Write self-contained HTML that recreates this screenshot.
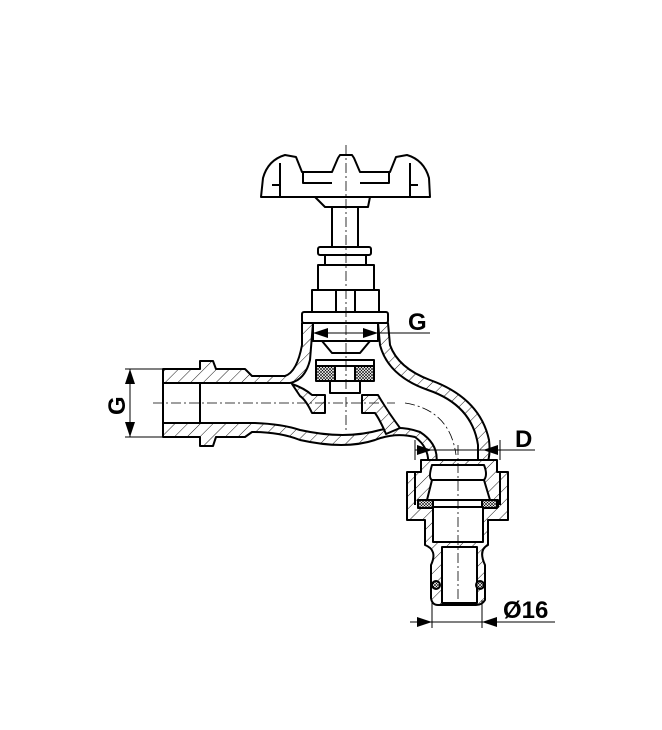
<!DOCTYPE html>
<html><head><meta charset="utf-8"><style>
html,body{margin:0;padding:0;background:#fff;}
svg{display:block}
text{font-family:"Liberation Sans",Arial,sans-serif;font-weight:bold;fill:#000}
</style></head><body>
<svg width="662" height="730" viewBox="0 0 662 730" xmlns="http://www.w3.org/2000/svg">
<defs>
<pattern id="h" width="9" height="9" patternUnits="userSpaceOnUse" patternTransform="rotate(45)">
<rect width="9" height="9" fill="#fff"/><line x1="0" y1="0" x2="0" y2="9" stroke="#000" stroke-width="0.9"/></pattern>
<pattern id="x" width="3" height="3" patternUnits="userSpaceOnUse">
<rect width="3" height="3" fill="#fff"/><path d="M0 0L3 3M3 0L0 3" stroke="#000" stroke-width="0.6"/></pattern>
</defs>
<g stroke="#000" stroke-width="2" fill="none" stroke-linejoin="round">
<!-- handle -->
<path d="M261 197 L263 178 Q268 160 285 155 L296 157 L302 172 L332 172 L338 158 L340 155 L352 155 L354 158 L360 172 L390 172 L396 157 L407 155 Q424 160 429 178 L430 197 Z" fill="#fff"/>
<path d="M303 172 L303 183 L332 183 M360 183 L389 183 L389 172" />
<path d="M280 163 L280 197 M410 163 L410 197 M272 185 L280 185 M410 185 L418 185"/>
<path d="M315 197 L325 207 L368 207 L370 197"/>
<!-- stem -->
<rect x="332" y="207" width="26" height="40" fill="#fff"/>
<rect x="318" y="247" width="53" height="8" rx="2" fill="#fff"/>
<rect x="325" y="255" width="41" height="10" fill="#fff"/>
<rect x="318" y="265" width="56" height="25" fill="#fff"/>
<rect x="312" y="290" width="67" height="22" fill="#fff"/>
<path d="M336 290 L336 312 M355 290 L355 312"/>
<rect x="302" y="312" width="86" height="11" rx="2" fill="#fff"/>
<!-- body outer hatched -->
<path d="M163 369 L200 369 L200 361 L213 361 L216 369 L245 369 L252 376 L285 376 Q297 372 302 345 L302 323 L388 323 L390 345 Q398 368 430 380 Q480 398 489 440 Q491 458 486 465 L428 466 Q430 448 415 437 Q395 432 375 440 Q345 450 300 440 Q280 432 252 432 L245 437 L216 437 L213 446 L200 446 L200 437 L163 437 Z" fill="url(#h)"/>
<!-- body inner white cavity -->
<path d="M163 383 L290 383 Q305 380 310 360 L313 323 L378 323 L380 345 Q388 376 428 390 Q472 405 478 445 L478 465 L436 465 Q440 445 420 432 Q400 425 380 430 Q345 440 300 430 Q282 424 255 423 L163 423 Z" fill="#fff"/>
<path d="M200 383 L200 423"/>
<!-- seats -->
<path d="M292 384 Q304 388 312 395 L325 395 L325 413 L312 413 Q306 400 300 396 Z" fill="url(#h)"/>
<path d="M362 395 L378 395 Q388 412 400 428 L386 434 Q380 420 375 413 L362 413 Z" fill="url(#h)"/>
<!-- valve internals -->
<rect x="313" y="323" width="65" height="18" fill="#fff"/>
<path d="M322 341 L332 353 L360 353 L370 341 Z" fill="#fff"/>
<rect x="316" y="360" width="58" height="6" fill="#fff"/>
<rect x="316" y="366" width="58" height="15" fill="url(#x)"/>
<rect x="335" y="366" width="20" height="15" fill="#fff"/>
<rect x="330" y="381" width="30" height="12" fill="#fff"/>
<!-- lower fitting -->
<path d="M407 472 L421 472 L421 460 L497 460 L497 472 L508 472 L508 520 L488 520 L488 545 Q478 550 485 565 L485 600 Q482 605 476 605 L438 605 Q432 605 431 598 L431 565 Q438 550 425 545 L425 520 L407 520 Z" fill="url(#h)"/>
<path d="M415 472 L415 505 M500 472 L500 505"/>
<path d="M432 465 Q428 478 432 480 L484 480 Q488 475 484 465 Z" fill="#fff"/>
<path d="M432 480 L427 500 L490 500 L484 480 Z" fill="#fff"/>
<rect x="420" y="500" width="78" height="7" fill="#fff"/>
<rect x="418" y="500" width="15" height="8" fill="url(#x)"/>
<rect x="482" y="500" width="15" height="8" fill="url(#x)"/>
<rect x="433" y="507" width="50" height="35" fill="#fff"/>
<rect x="442" y="547" width="35" height="56" fill="#fff"/>
<circle cx="436" cy="585" r="4" fill="url(#x)"/>
<circle cx="480" cy="585" r="4" fill="url(#x)"/>
</g>
<!-- center lines -->
<g stroke="#000" stroke-width="0.8" stroke-dasharray="10 3 2 3" fill="none">
<path d="M346 145 L346 430"/>
<path d="M153 403 L395 403"/>
<path d="M405 403 Q450 410 456 455"/>
<path d="M458 445 L458 605"/>
</g>
<!-- dimensions -->
<g stroke="#000" stroke-width="1" fill="none">
<path d="M125 369 L163 369 M125 437 L163 437 M130 369 L130 437"/>
<path d="M313 333 L430 333"/>
<path d="M415 440 L415 460 M500 440 L500 460 M415 450 L535 450"/>
<path d="M432 600 L432 628 M482 600 L482 628 M410 622 L555 622"/>
</g>
<g fill="#000">
<path d="M130 369 L125 384 L135 384 Z M130 437 L125 422 L135 422 Z"/>
<path d="M313 333 L328 328 L328 338 Z M378 333 L363 328 L363 338 Z"/>
<path d="M432 450 L417 445 L417 455 Z M483 450 L498 445 L498 455 Z"/>
<path d="M432 622 L417 617 L417 627 Z M482 622 L497 617 L497 627 Z"/>
</g>
<text x="408" y="330" font-size="24">G</text>
<text x="515" y="447" font-size="24">D</text>
<text x="503" y="618" font-size="24">Ø16</text>
<text x="0" y="0" font-size="24" transform="translate(125,415) rotate(-90)">G</text>
</svg>
</body></html>
